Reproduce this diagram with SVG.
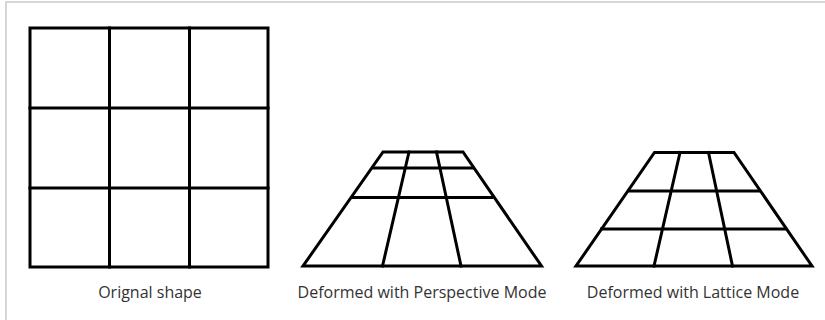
<svg xmlns="http://www.w3.org/2000/svg" width="825" height="320" viewBox="0 0 825 320">
<style>
.g{fill:none;stroke:#000;stroke-width:3;stroke-linejoin:miter;stroke-linecap:square}
.t{font-family:"Open Sans","Liberation Sans",sans-serif;font-size:16px;fill:#333;text-anchor:middle}
</style>
<rect x="0" y="0" width="825" height="320" fill="#fff"/>
<path d="M6 320 V2 H825" fill="none" stroke="#d6d6d6" stroke-width="2"/>
<g id="original">
<rect class="g" x="30" y="28" width="238" height="239"/>
<path class="g" d="M109.5 28 V267 M189.5 28 V267 M30 108 H268 M30 188 H268"/>
<text class="t" x="150" y="298">Orignal shape</text>
</g>
<g id="perspective">
<path class="g" d="M383 152 H463 L541.5 266 H303 Z"/>
<path class="g" d="M373 168 H472.5 M353 197.5 H491.5 M409 152 L382.5 266 M436.5 152 L461 266"/>
<text class="t" x="422" y="298">Deformed with Perspective Mode</text>
</g>
<g id="lattice">
<path class="g" d="M654.5 152.5 H734 L812 266 H576 Z"/>
<path class="g" d="M628.5 191 H759 M601.5 229 H785 M680 152.5 L654 266 M708.5 152.5 L732.5 266"/>
<text class="t" x="693" y="298">Deformed with Lattice Mode</text>
</g>
</svg>
